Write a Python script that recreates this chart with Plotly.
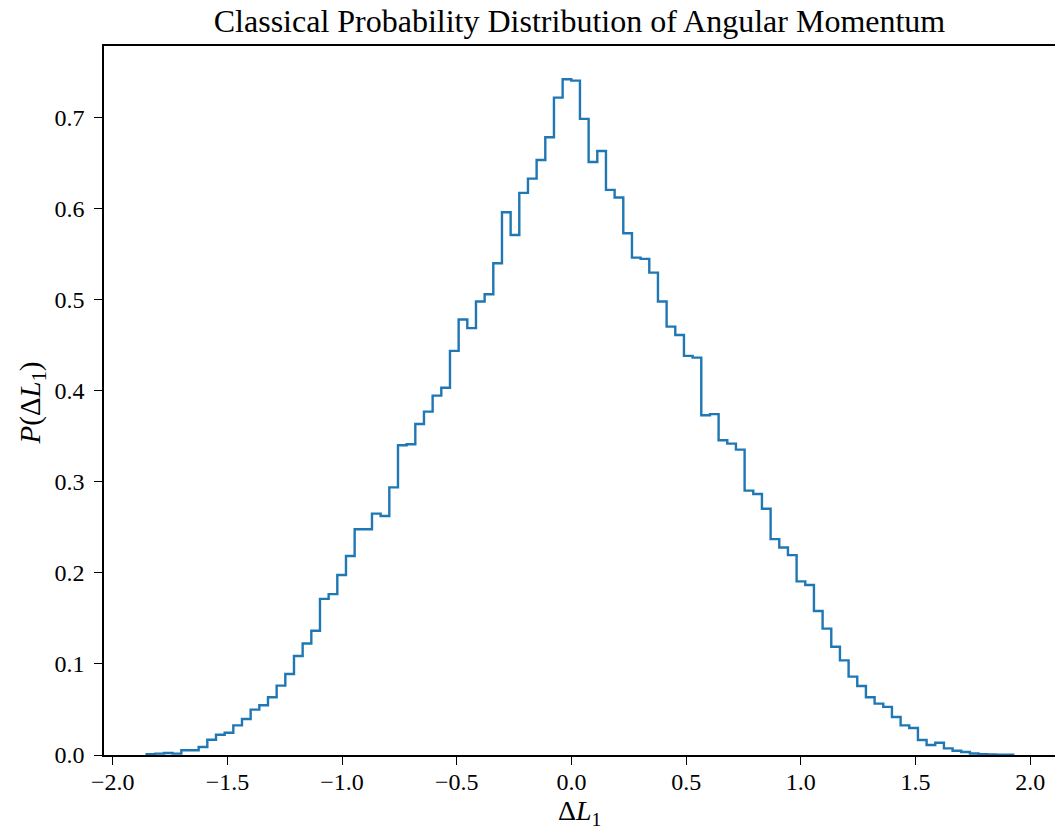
import numpy as np
import plotly.graph_objects as go

# Histogram parameters (bin range and count)
bin_lo = -1.852
bin_hi = 1.926
n_bins = 100

# Bin heights (probability density)
heights = [
    0.0008, 0.0015, 0.0022, 0.0015, 0.0052, 0.0052, 0.0088, 0.0168, 0.0223, 0.0245,
    0.0326, 0.0396, 0.0498, 0.0546, 0.0634, 0.0762, 0.0890, 0.1088, 0.1225, 0.1365,
    0.1715, 0.1768, 0.1978, 0.2187, 0.2480, 0.2480, 0.2652, 0.2626, 0.2941, 0.3403,
    0.3414, 0.3637, 0.3773, 0.3949, 0.4035, 0.4440, 0.4785, 0.4690, 0.4982, 0.5062,
    0.5403, 0.5963, 0.5714, 0.6176, 0.6333, 0.6538, 0.6787, 0.7223, 0.7425, 0.7410,
    0.6989, 0.6516, 0.6637, 0.6209, 0.6125, 0.5733, 0.5465, 0.5451, 0.5300, 0.4982,
    0.4707, 0.4615, 0.4385, 0.4366, 0.3733, 0.3745, 0.3458, 0.3421, 0.3355, 0.2905,
    0.2868, 0.2705, 0.2372, 0.2280, 0.2196, 0.1908, 0.1868, 0.1582, 0.1388, 0.1190,
    0.1040, 0.0861, 0.0758, 0.0634, 0.0564, 0.0529, 0.0418, 0.0326, 0.0297, 0.0165,
    0.0110, 0.0134, 0.0073, 0.0046, 0.0033, 0.0016, 0.0008, 0.0005, 0.0004, 0.0003,
]

x_tick_vals = [-2.0, -1.5, -1.0, -0.5, 0.0, 0.5, 1.0, 1.5, 2.0]
x_tick_text = ["\u22122.0", "\u22121.5", "\u22121.0", "\u22120.5", "0.0", "0.5", "1.0", "1.5", "2.0"]
y_tick_vals = [0.0, 0.1, 0.2, 0.3, 0.4, 0.5, 0.6, 0.7]
y_tick_text = ["0.0", "0.1", "0.2", "0.3", "0.4", "0.5", "0.6", "0.7"]

title_text = "Classical Probability Distribution of Angular Momentum"
x_label = "\u0394<i>L</i><sub>1</sub>"
y_label = "<i>P</i>(\u0394<i>L</i><sub>1</sub>)"

edges = np.linspace(bin_lo, bin_hi, n_bins + 1)
# step outline like matplotlib histtype='step'
xs = np.concatenate([[edges[0]], edges, [edges[-1]]])
ys = np.concatenate([[0.0], heights, [heights[-1], 0.0]])

FONT = "Liberation Serif, DejaVu Serif, serif"

fig = go.Figure()
fig.add_trace(go.Scatter(
    x=xs, y=ys, mode="lines", line=dict(color="#1f77b4", width=2.4, shape="hv"),
    hoverinfo="skip", showlegend=False,
))

fig.update_layout(
    width=1055, height=831,
    margin=dict(l=104, r=0, t=46, b=76),
    paper_bgcolor="white", plot_bgcolor="white",
    font=dict(family=FONT, color="black", size=24),
    title=dict(text=title_text, x=0.5, xref="paper", xanchor="center",
               y=1 - 21 / 831, yref="container", yanchor="middle",
               font=dict(family=FONT, size=32, color="black")),
    xaxis=dict(
        range=[-2.038, 2.108], showgrid=False, zeroline=False,
        showline=True, linecolor="black", linewidth=1.6, mirror=True,
        ticks="outside", ticklen=8, tickwidth=1.4, tickcolor="black",
        tickvals=x_tick_vals, ticktext=x_tick_text,
        tickfont=dict(size=24), ticklabelstandoff=-4,
    ),
    yaxis=dict(
        range=[0, 0.779], showgrid=False, zeroline=False,
        showline=True, linecolor="black", linewidth=1.6,
        ticks="outside", ticklen=8, tickwidth=1.4, tickcolor="black",
        tickvals=y_tick_vals, ticktext=y_tick_text,
        tickfont=dict(size=24), ticklabelstandoff=5,
    ),
    annotations=[
        dict(text=x_label, xref="paper", yref="paper", x=0.5, y=0,
             xanchor="center", yanchor="middle", yshift=-57, showarrow=False,
             font=dict(size=28)),
        dict(text=y_label, xref="paper", yref="paper", x=0, y=0.5,
             xanchor="center", yanchor="middle", xshift=-73, yshift=-3,
             textangle=-90, showarrow=False, font=dict(size=29)),
    ],
)

fig.write_html("out.html", config={"displayModeBar": False},
               post_script="document.body.style.margin='0';")
